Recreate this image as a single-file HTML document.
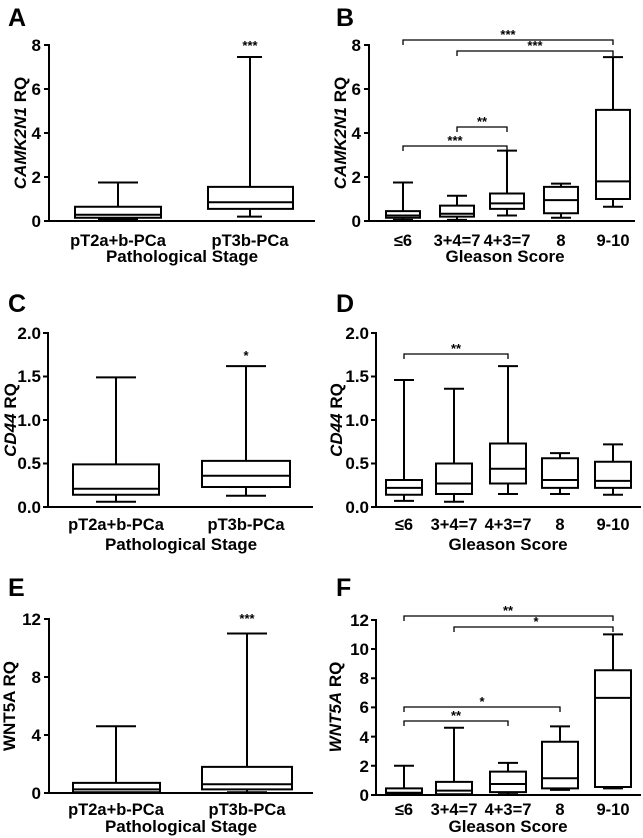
<!DOCTYPE html>
<html><head><meta charset="utf-8"><style>
body{margin:0;background:#fff}
svg{display:block}
text{font-family:"Liberation Sans",Arial,sans-serif;font-weight:bold;fill:#000}
.t{font-size:17px;text-anchor:end}
.c{font-size:16.5px;text-anchor:middle}
.ti{font-size:17px;text-anchor:middle}
.L{font-size:25px}
.s{font-size:13px;text-anchor:middle}
.ax,.bx{stroke:#000;stroke-width:2;fill:none}
.br{stroke:#000;stroke-width:1.3;fill:none}
</style></head><body>
<svg width="643" height="838" viewBox="0 0 643 838">
<!-- Panel A -->
<text class="L" x="8" y="26">A</text>
<path class="ax" d="M49,44V221H315M44,221H49M44,177H49M44,133H49M44,89H49M44,45H49"/>
<text class="t" x="41" y="227">0</text><text class="t" x="41" y="183">2</text><text class="t" x="41" y="139">4</text><text class="t" x="41" y="95">6</text><text class="t" x="41" y="51">8</text>
<text class="ti" transform="translate(26,133) rotate(-90)"><tspan font-style="italic">CAMK2N1</tspan> RQ</text>
<path class="bx" d="M75,206.7H161V217.7H75ZM75,214.8H161M118,206.7V182.5M98,182.5H138M118,217.7V219.2M98,219.2H138"/>
<path class="bx" d="M208,186.9H293V208.9H208ZM208,202.3H293M250,186.9V57M237,57H262M250,208.9V216.6M237,216.6H262"/>
<text class="s" x="250" y="50">***</text>
<text class="c" x="118" y="246">pT2a+b-PCa</text><text class="c" x="250" y="246">pT3b-PCa</text>
<text class="ti" x="182" y="262">Pathological Stage</text>
<!-- Panel B -->
<text class="L" x="336" y="26">B</text>
<path class="ax" d="M369,44V221H635M364,221H369M364,177H369M364,133H369M364,89H369M364,45H369"/>
<text class="t" x="361" y="227">0</text><text class="t" x="361" y="183">2</text><text class="t" x="361" y="139">4</text><text class="t" x="361" y="95">6</text><text class="t" x="361" y="51">8</text>
<text class="ti" transform="translate(346,133) rotate(-90)"><tspan font-style="italic">CAMK2N1</tspan> RQ</text>
<path class="bx" d="M386,211.1H420V217.7H386ZM386,215.5H420M403,211.1V182.5M393,182.5H413M403,217.7V219.9M393,219.9H413"/>
<path class="bx" d="M440,205.6H474V216.6H440ZM440,213.7H474M457,205.6V195.7M447,195.7H467M457,216.6V219.9M447,219.9H467"/>
<path class="bx" d="M490,193.5H524V208.9H490ZM490,203.4H524M507,193.5V150.6M497,150.6H517M507,208.9V215.5M497,215.5H517"/>
<path class="bx" d="M544,186.9H578V213.3H544ZM544,200.1H578M561,186.9V183.6M551,183.6H571M561,213.3V217.7M551,217.7H571"/>
<path class="bx" d="M596,109.9H630V199H596ZM596,181.4H630M613,109.9V57.1M603,57.1H623M613,199V206.7M603,206.7H623"/>
<path class="br" d="M403,45V40H613V45M457,56V51H613V56M457,132V127H507V132M403,151V146H507V151"/>
<text class="s" x="508" y="39">***</text><text class="s" x="535" y="50">***</text><text class="s" x="482" y="126">**</text><text class="s" x="455" y="145">***</text>
<text class="c" x="403" y="246">≤6</text><text class="c" x="457" y="246">3+4=7</text><text class="c" x="507" y="246">4+3=7</text><text class="c" x="561" y="246">8</text><text class="c" x="613" y="246">9-10</text>
<text class="ti" x="505" y="262">Gleason Score</text>
<!-- Panel C -->
<text class="L" x="8" y="312">C</text>
<path class="ax" d="M48,332V507H313M43,507H48M43,463.5H48M43,420H48M43,376.5H48M43,333H48"/>
<text class="t" x="41" y="513">0.0</text><text class="t" x="41" y="469">0.5</text><text class="t" x="41" y="426">1.0</text><text class="t" x="41" y="382">1.5</text><text class="t" x="41" y="339">2.0</text>
<text class="ti" transform="translate(16,420) rotate(-90)"><tspan font-style="italic">CD44</tspan> RQ</text>
<path class="bx" d="M73,464.4H159V494.8H73ZM73,488.7H159M116,464.4V377.4M96,377.4H136M116,494.8V501.8M96,501.8H136"/>
<path class="bx" d="M202,460.9H290V487H202ZM202,475.7H290M246,460.9V366.1M226,366.1H266M246,487V495.7M226,495.7H266"/>
<text class="s" x="246" y="360">*</text>
<text class="c" x="116" y="530">pT2a+b-PCa</text><text class="c" x="246" y="530">pT3b-PCa</text>
<text class="ti" x="181" y="550">Pathological Stage</text>
<!-- Panel D -->
<text class="L" x="336" y="312">D</text>
<path class="ax" d="M376,332V507H641M371,507H376M371,463.5H376M371,420H376M371,376.5H376M371,333H376"/>
<text class="t" x="369" y="513">0.0</text><text class="t" x="369" y="469">0.5</text><text class="t" x="369" y="426">1.0</text><text class="t" x="369" y="382">1.5</text><text class="t" x="369" y="339">2.0</text>
<text class="ti" transform="translate(342,420) rotate(-90)"><tspan font-style="italic">CD44</tspan> RQ</text>
<path class="bx" d="M386,480H422V494.8H386ZM386,487.9H422M404,480V380M394,380H414M404,494.8V500.9M394,500.9H414"/>
<path class="bx" d="M436,463.5H472V494H436ZM436,483.5H472M454,463.5V388.7M444,388.7H464M454,494V501.8M444,501.8H464"/>
<path class="bx" d="M490,443.5H526V483.5H490ZM490,468.7H526M508,443.5V366.1M498,366.1H518M508,483.5V494M498,494H518"/>
<path class="bx" d="M542,458.3H578V487.9H542ZM542,480H578M560,458.3V453.1M550,453.1H570M560,487.9V494M550,494H570"/>
<path class="bx" d="M595,461.8H631V487.9H595ZM595,480.9H631M613,461.8V444.4M603,444.4H623M613,487.9V494.8M603,494.8H623"/>
<path class="br" d="M404,359V354H508V359"/>
<text class="s" x="456" y="353">**</text>
<text class="c" x="404" y="530">≤6</text><text class="c" x="454" y="530">3+4=7</text><text class="c" x="508" y="530">4+3=7</text><text class="c" x="560" y="530">8</text><text class="c" x="613" y="530">9-10</text>
<text class="ti" x="508" y="550">Gleason Score</text>
<!-- Panel E -->
<text class="L" x="8" y="596">E</text>
<path class="ax" d="M49,618V793H313M44,793H49M44,735H49M44,677H49M44,619H49"/>
<text class="t" x="41" y="799">0</text><text class="t" x="41" y="741">4</text><text class="t" x="41" y="683">8</text><text class="t" x="41" y="625">12</text>
<text class="ti" transform="translate(15,706) rotate(-90)">WNT5A RQ</text>
<path class="bx" d="M73,782.9H160V792.3H73ZM73,789.4H160M116,782.9V726.3M96,726.3H136M116,792.3V792.7"/>
<path class="bx" d="M202,766.9H292V789.4H202ZM202,784.3H292M247,766.9V633.5M227,633.5H267M247,789.4V792.3M227,792.3H267"/>
<text class="s" x="247" y="623">***</text>
<text class="c" x="116" y="815">pT2a+b-PCa</text><text class="c" x="247" y="815">pT3b-PCa</text>
<text class="ti" x="181" y="832">Pathological Stage</text>
<!-- Panel F -->
<text class="L" x="336" y="596">F</text>
<path class="ax" d="M376,619V795H641M371,795H376M371,765.8H376M371,736.6H376M371,707.4H376M371,678.2H376M371,649H376M371,620H376"/>
<text class="t" x="369" y="801">0</text><text class="t" x="369" y="772">2</text><text class="t" x="369" y="743">4</text><text class="t" x="369" y="713">6</text><text class="t" x="369" y="684">8</text><text class="t" x="369" y="655">10</text><text class="t" x="369" y="626">12</text>
<text class="ti" transform="translate(341,707) rotate(-90)"><tspan font-style="italic">WNT5A</tspan> RQ</text>
<path class="bx" d="M386,788.4H422V794.3H386ZM386,792.8H422M404,788.4V765.8M394,765.8H414M404,794.3V794.7"/>
<path class="bx" d="M436,781.9H472V794.3H436ZM436,790.6H472M454,781.9V727.8M444,727.8H464"/>
<path class="bx" d="M490,771.6H526V792.1H490ZM490,784H526M508,771.6V762.9M498,762.9H518M508,792.1V794.3M498,794.3H518"/>
<path class="bx" d="M542,741.7H578V788.4H542ZM542,778.2H578M560,741.7V726.4M550,726.4H570M560,788.4V789.9M550,789.9H570"/>
<path class="bx" d="M595,670.2H631V787H595ZM595,697.9H631M613,670.2V634.4M603,634.4H623M613,787V788.4M603,788.4H623"/>
<path class="br" d="M404,621V616H613V621M454,632V627H613V632M404,712V707H560V712M404,726V721H508V726"/>
<text class="s" x="508" y="615">**</text><text class="s" x="536" y="626">*</text><text class="s" x="482" y="706">*</text><text class="s" x="456" y="720">**</text>
<text class="c" x="404" y="815">≤6</text><text class="c" x="454" y="815">3+4=7</text><text class="c" x="508" y="815">4+3=7</text><text class="c" x="560" y="815">8</text><text class="c" x="613" y="815">9-10</text>
<text class="ti" x="508" y="832">Gleason Score</text>
</svg>
</body></html>
